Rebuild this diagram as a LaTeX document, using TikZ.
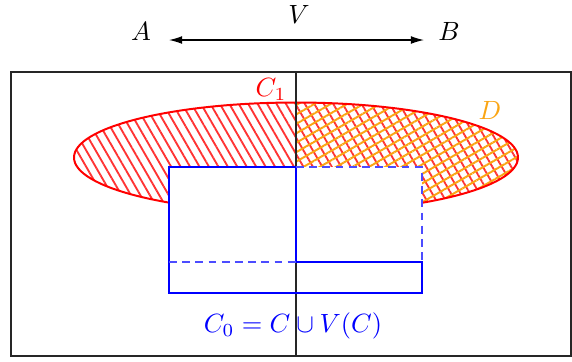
\documentclass[tikz,border=0pt]{standalone}
\usetikzlibrary{patterns.meta,arrows.meta}
\definecolor{myorange}{RGB}{250,165,20}
\begin{document}
\begin{tikzpicture}[x=0.379pt,y=-0.379pt,
  frame/.style={draw=black!85,line width=0.75pt},
  bluesolid/.style={draw=blue,line width=0.75pt},
  bluedash/.style={draw=blue!70,line width=0.5pt,dash pattern=on 3pt off 2pt},
  redhatch/.style={pattern={Lines[angle=-60,distance=3.1pt,line width=0.7pt]},pattern color=red!80},
  orangehatch/.style={pattern={Lines[angle=30,distance=3.1pt,line width=0.75pt]},pattern color=myorange},
  lbl/.style={inner sep=1pt}]
\useasboundingbox (0,0) rectangle (572,361);
% hatched ellipse
\fill[redhatch] (296,157.5) ellipse [x radius=222,y radius=55];
\begin{scope}
  \clip (296,0) rectangle (572,361);
  \fill[orangehatch] (296,157.5) ellipse [x radius=222,y radius=55];
\end{scope}
\draw[red,line width=0.75pt] (296,157.5) ellipse [x radius=222,y radius=55];
% white box
\fill[white] (169,167) rectangle (422,293);
% frame and vertical line
\draw[frame] (11,72) rectangle (571,356);
\draw[frame] (296,72) -- (296,356);
% blue shapes
\draw[bluesolid] (296,262) -- (296,167) -- (169,167) -- (169,293) -- (422,293) -- (422,262) -- cycle;
\draw[bluedash] (169,262) -- (296,262);
\draw[bluedash] (296,167) -- (422,167) -- (422,262);
% top arrow
\coordinate (vl) at (169,40);
\coordinate (vr) at (424,40);
\draw[line width=0.45pt,{Latex[length=5pt,width=3pt]}-{Latex[length=5pt,width=3pt]}] (vl) -- (vr);
% labels
\node[lbl] (a) at (141,31) {$A$};
\node[lbl] (b) at (449,31) {$B$};
\node[lbl] (v) at (299,14) {$V$};
\node[lbl,red] (c1) at (271,89) {$C_1$};
\node[lbl,myorange] (d) at (490,110) {$D$};
\node[lbl,blue] (c0) at (293,326) {$C_0 = C \cup V(C)$};
\end{tikzpicture}
\end{document}
